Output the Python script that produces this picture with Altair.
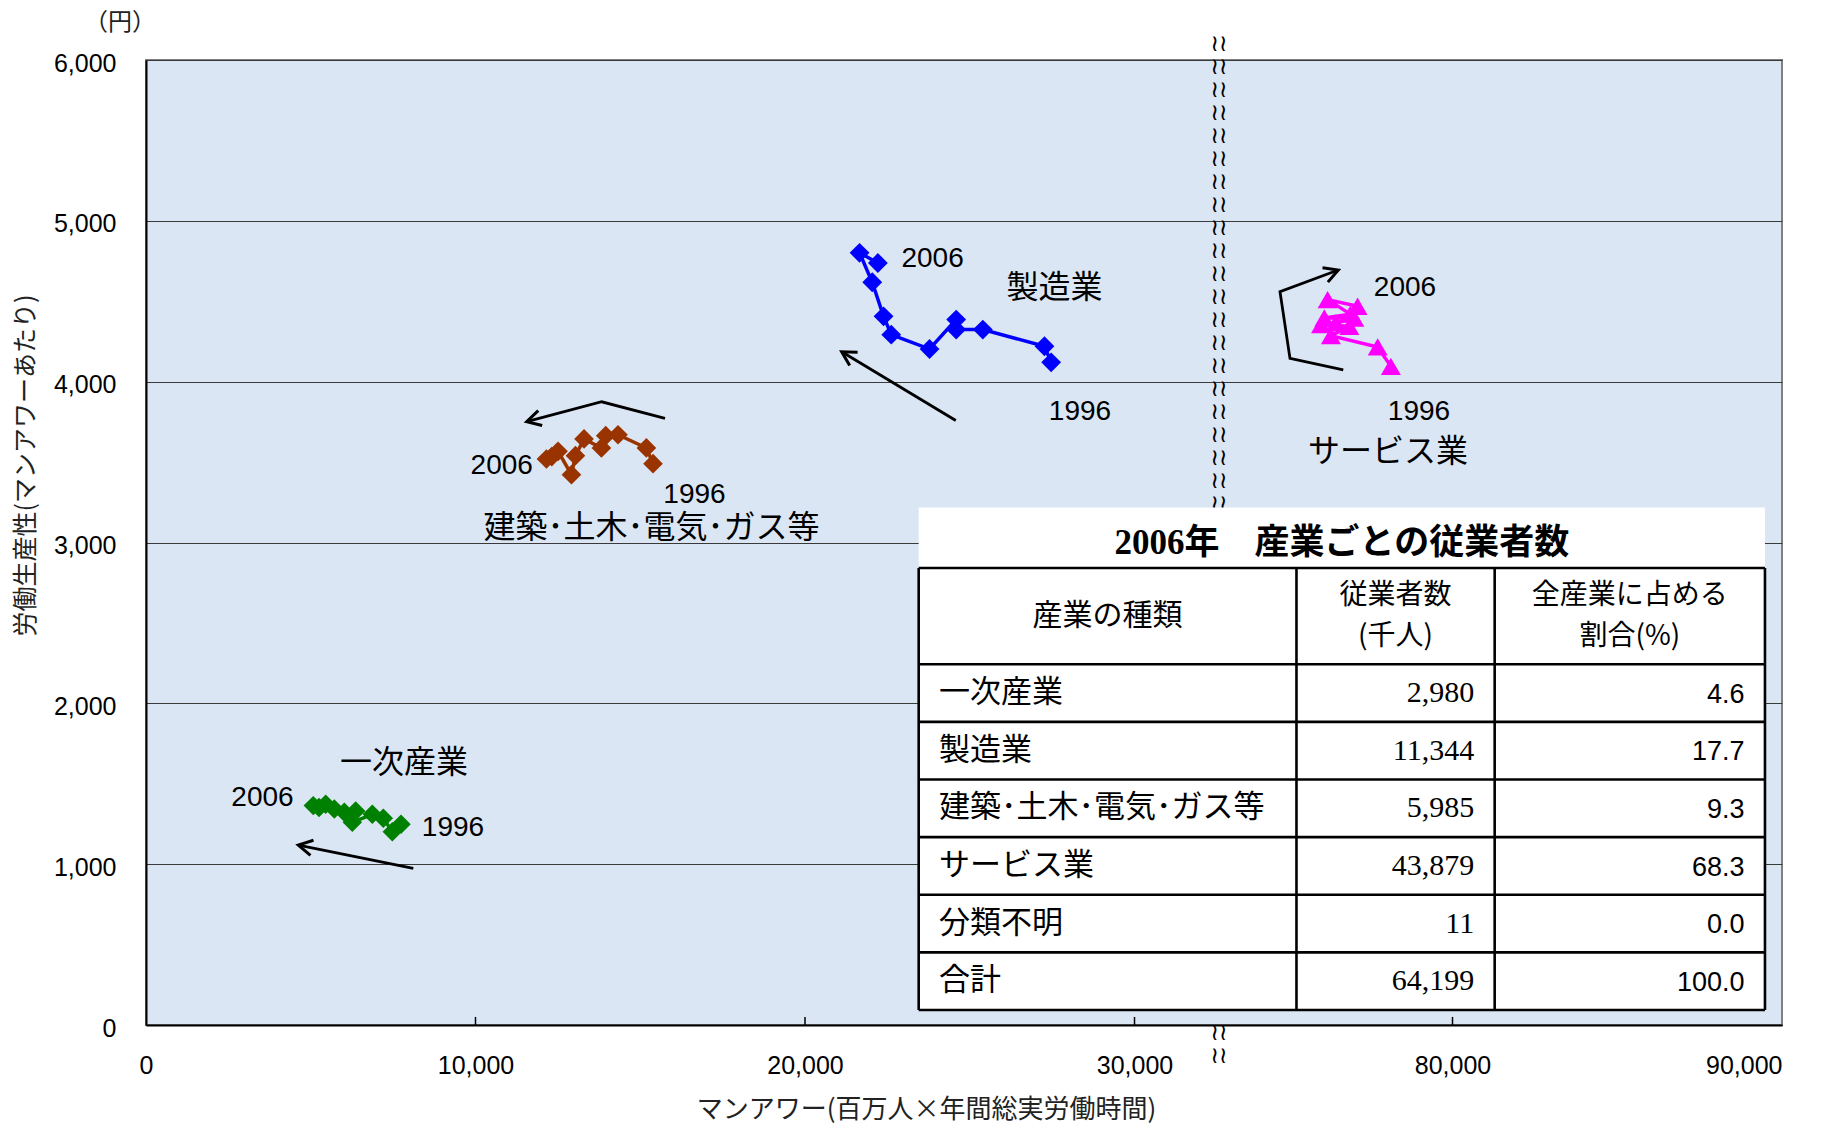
import math
import altair as alt
import pandas as pd

# ---- layout of the plotting area -------------------------------------------
WIDTH, HEIGHT = 1636, 965
X_MAX, Y_MAX = 49650, 6000
BREAK_AT = 32560          # where the x axis is cut
BREAK_SHIFT = 40350       # values right of the cut are drawn this much further left
XPX = WIDTH / X_MAX
YPX = HEIGHT / Y_MAX

JP = "Noto Sans CJK JP"
MIX = "Liberation Sans, Noto Sans CJK JP"

# ---- series: labour productivity vs. man-hours, 1996-2006 --------------------
years = list(range(1996, 2007))

primary_x = [7739, 7475, 7202, 6868, 6261, 6364, 6018, 5715, 5454, 5250, 5077]
primary_y = [1248, 1202, 1285, 1310, 1260, 1331, 1323, 1343, 1372, 1353, 1364]

construction_x = [15387, 15186, 14325, 13952, 13821, 13294, 13033, 12912, 12505, 12314, 12153]
construction_y = [3490, 3588, 3670, 3664, 3588, 3644, 3540, 3422, 3567, 3534, 3519]

manufacturing_x = [27470, 27267, 25396, 24588, 24588, 23779, 22617, 22384, 22041, 21656, 22211]
manufacturing_y = [4120, 4220, 4324, 4324, 4386, 4203, 4292, 4406, 4618, 4801, 4738]

services_x = [78130, 77730, 76310, 76870, 76010, 76460, 77020, 76110, 76900, 76210, 77120]
services_y = [4095, 4216, 4286, 4344, 4355, 4365, 4396, 4396, 4420, 4510, 4469]

series_names = ["一次産業", "建築･土木･電気･ガス等", "製造業", "サービス業"]
series_colors = ["#008000", "#993300", "#0000ff", "#ff00ff"]
series_shapes = ["diamond", "diamond", "diamond", "triangle-up"]
series_sizes = [380, 400, 360, 420]

# ---- table: employees by industry, 2006 --------------------------------------
table_title = "2006年　産業ごとの従業者数"
table_header = ["産業の種類", "従業者数\n(千人)", "全産業に占める\n割合(%)"]
industries = ["一次産業", "製造業", "建築･土木･電気･ガス等", "サービス業", "分類不明", "合計"]
employees = ["2,980", "11,344", "5,985", "43,879", "11", "64,199"]
shares = ["4.6", "17.7", "9.3", "68.3", "0.0", "100.0"]

# ---- trend arrows (in data units) -------------------------------------------
arrows = {
    "primary": ([8112, 4622], [974, 1119]),
    "construction": ([15751, 13830, 11554], [3772, 3875, 3751]),
    "manufacturing": ([24576, 21113], [3759, 4186]),
    "services": ([76685, 75068, 74765, 76534], [4073, 4145, 4559, 4694]),
}

# ---- annotations --------------------------------------------------------------
label_text = ["2006", "1996", "一次産業",
              "2006", "1996", "建築･土木･電気･ガス等",
              "2006", "1996", "製造業",
              "2006", "1996", "サービス業"]
label_x = [3536, 9317, 7830, 10795, 16646, 15341, 23872, 28345, 27572, 78558, 78983, 78042]
label_y = [1411, 1225, 1629, 3478, 3297, 3088, 4763, 3810, 4582, 4582, 3810, 3564]
label_size = [28, 28, 32, 28, 28, 32, 28, 28, 32, 28, 28, 32]


def plot_x(v):
    return v - BREAK_SHIFT if v > BREAK_AT + 20000 else v


PX_EXPR = f"datum.x > {BREAK_AT + 20000} ? datum.x - {BREAK_SHIFT} : datum.x"

xscale = alt.Scale(domain=[0, X_MAX], nice=False, zero=False)
yscale = alt.Scale(domain=[0, Y_MAX], nice=False, zero=False)

x_axis = alt.Axis(
    values=[0, 10000, 20000, 30000, 80000 - BREAK_SHIFT, 90000 - BREAK_SHIFT],
    labelExpr=f"format(datum.value > {BREAK_AT} ? datum.value + {BREAK_SHIFT} : datum.value, ',')",
    labelFont="Liberation Sans", labelFontSize=25, labelColor="black",
    labelPadding=28, labelFlush=False,
    labelAlign={"condition": {"test": f"datum.value >= {X_MAX}", "value": "right"}, "value": "center"},
    ticks=False, grid=False, domainColor="black", domainWidth=2,
    title="マンアワー(百万人×年間総実労働時間)", titleFont=JP, titleFontSize=26,
    titleFontWeight="normal", titleColor="#222222",
    titleX=780, titleY=84, titleBaseline="middle", titleAlign="center",
)
y_axis = alt.Axis(
    values=[0, 1000, 2000, 3000, 4000, 5000, 6000],
    labelExpr="format(datum.value, ',')",
    labelFont="Liberation Sans", labelFontSize=25, labelColor="black", labelPadding=30,
    labelOffset=3,
    ticks=False, grid=True, gridColor="#3a3a3a", gridWidth=1,
    domainColor="black", domainWidth=2,
    title="労働生産性(マンアワーあたり)", titleFont=JP, titleFontSize=25,
    titleFontWeight="normal", titleColor="#222222",
    titleX=-121, titleY=405, titleBaseline="middle", titleAlign="center",
)


def ex(field="px"):
    return alt.X(f"{field}:Q", scale=xscale, axis=x_axis)


def ey(field="y"):
    return alt.Y(f"{field}:Q", scale=yscale, axis=y_axis)


# series table
rows = []
for name, xs, ys in zip(series_names,
                        [primary_x, construction_x, manufacturing_x, services_x],
                        [primary_y, construction_y, manufacturing_y, services_y]):
    for yr, xv, yv in zip(years, xs, ys):
        rows.append({"series": name, "year": yr, "x": xv, "y": yv})
series_df = pd.DataFrame(rows)

color = alt.Color("series:N", scale=alt.Scale(domain=series_names, range=series_colors), legend=None)
shape = alt.Shape("series:N", scale=alt.Scale(domain=series_names, range=series_shapes), legend=None)
msize = alt.Size("series:N", scale=alt.Scale(domain=series_names, range=series_sizes), legend=None)

base = alt.Chart(series_df).transform_calculate(px=PX_EXPR)
lines = base.mark_line(strokeWidth=3.5).encode(
    x=ex(), y=ey(), color=color, detail="series:N", order="year:O",
)
points = base.mark_point(filled=True, opacity=1).encode(
    x=ex(), y=ey(), color=color, shape=shape, size=msize,
)

# arrows
arrow_rows, head_rows = [], []
for key, (xs, ys) in arrows.items():
    for i, (xv, yv) in enumerate(zip(xs, ys)):
        arrow_rows.append({"arrow": key, "i": i, "x": xv, "y": yv})
    x1, x2 = plot_x(xs[-2]), plot_x(xs[-1])
    dxp = (x2 - x1) * XPX
    dyp = -(ys[-1] - ys[-2]) * YPX
    ang = math.degrees(math.atan2(dyp, dxp)) % 360
    head_rows.append({"x": xs[-1], "y": ys[-1], "angle": ang})
arrow_df = pd.DataFrame(arrow_rows)
head_df = pd.DataFrame(head_rows)

arrow_lines = alt.Chart(arrow_df).transform_calculate(px=PX_EXPR).mark_line(
    color="black", strokeWidth=2.8
).encode(x=ex(), y=ey(), detail="arrow:N", order="i:Q")
arrow_heads = alt.Chart(head_df).transform_calculate(px=PX_EXPR).mark_point(
    shape="M -1 -0.55 L 0 0 L -1 0.55", filled=False, color="black",
    strokeWidth=3, size=780, opacity=1, strokeJoin="miter",
).encode(x=ex(), y=ey(), angle=alt.Angle("angle:Q", scale=None))

# text annotations
label_df = pd.DataFrame({"text": label_text, "x": label_x, "y": label_y, "size": label_size})
labels = alt.Chart(label_df).transform_calculate(px=PX_EXPR).mark_text(
    font=MIX, color="black", align="center", baseline="middle"
).encode(x=ex(), y=ey(), text="text:N", size=alt.Size("size:Q", scale=None))

# ---- table geometry (plot units) -------------------------------------------
COLS = [23450, 34915, 40930, 49133]
T_TOP, T_TITLE_BOTTOM, T_HEAD_BOTTOM = 3218, 2841, 2243
ROW_H = (T_HEAD_BOTTOM - 93) / len(industries)
T_BOTTOM = T_HEAD_BOTTOM - ROW_H * len(industries)
PAD = 620

# axis-break marks (the ones fully behind the table are left out)
break_y = [6100 - 143 * k for k in range(45)]
break_y = [v for v in break_y if v > T_TOP - 20 or v < T_BOTTOM - 60]
break_df = pd.DataFrame({"px": [BREAK_AT] * len(break_y), "y": break_y})
break_marks = alt.Chart(break_df).mark_text(
    text="≀≀", font="DejaVu Sans", fontSize=23, color="black", baseline="middle"
).encode(x=ex(), y=ey())

# inward tick marks on the x axis
tick_df = pd.DataFrame({"px": [10000, 20000, 30000, 80000 - BREAK_SHIFT], "y": [0] * 4, "y2": [50] * 4})
ticks = alt.Chart(tick_df).mark_rule(color="black", strokeWidth=1.5).encode(
    x=ex(), y=ey(), y2="y2:Q"
)

table_bg = alt.Chart(pd.DataFrame({"px": [COLS[0]], "px2": [COLS[-1]], "y": [T_TOP], "y2": [T_BOTTOM]})).mark_rect(
    fill="white"
).encode(x=ex(), x2="px2:Q", y=ey(), y2="y2:Q")

h_lines = [T_TITLE_BOTTOM, T_HEAD_BOTTOM] + [T_HEAD_BOTTOM - ROW_H * (k + 1) for k in range(len(industries))]
grid_rows = [{"px": COLS[0], "px2": COLS[-1], "y": yv, "y2": yv} for yv in h_lines]
grid_rows += [{"px": cx, "px2": cx, "y": T_TITLE_BOTTOM, "y2": T_BOTTOM} for cx in COLS]
table_grid = alt.Chart(pd.DataFrame(grid_rows)).mark_rule(color="black", strokeWidth=2.6).encode(
    x=ex(), x2="px2:Q", y=ey(), y2="y2:Q"
)

title_txt = alt.Chart(pd.DataFrame({"px": [(COLS[0] + COLS[-1]) / 2], "y": [(T_TOP + T_TITLE_BOTTOM) / 2 - 30], "t": [table_title]})).mark_text(
    font="Liberation Serif, Noto Sans CJK JP", fontSize=35, fontWeight="bold", color="black", baseline="middle"
).encode(x=ex(), y=ey(), text="t:N")

head_mid = (T_TITLE_BOTTOM + T_HEAD_BOTTOM) / 2
head_rows_df = []
for c, txt in enumerate(table_header):
    parts = txt.split("\n")
    cx = (COLS[c] + COLS[c + 1]) / 2
    if len(parts) == 1:
        head_rows_df.append({"px": cx, "y": head_mid, "t": parts[0], "s": 30})
    else:
        head_rows_df.append({"px": cx, "y": head_mid + 128, "t": parts[0], "s": 28})
        head_rows_df.append({"px": cx, "y": head_mid - 128, "t": parts[1], "s": 28})
header_txt = alt.Chart(pd.DataFrame(head_rows_df)).mark_text(
    font=JP, color="black", baseline="middle"
).encode(x=ex(), y=ey(), text="t:N", size=alt.Size("s:Q", scale=None))

row_centers = [T_HEAD_BOTTOM - ROW_H * (k + 0.5) for k in range(len(industries))]
col1 = alt.Chart(pd.DataFrame({"px": [COLS[0] + PAD] * 6, "y": row_centers, "t": industries})).mark_text(
    font=JP, fontSize=31, color="black", align="left", baseline="middle"
).encode(x=ex(), y=ey(), text="t:N")
col2 = alt.Chart(pd.DataFrame({"px": [COLS[2] - PAD] * 6, "y": row_centers, "t": employees})).mark_text(
    font="Liberation Serif", fontSize=30, color="black", align="right", baseline="middle"
).encode(x=ex(), y=ey(), text="t:N")
col3 = alt.Chart(pd.DataFrame({"px": [COLS[3] - PAD] * 6, "y": [r - 10 for r in row_centers], "t": shares})).mark_text(
    font="Liberation Sans", fontSize=27, color="black", align="right", baseline="middle"
).encode(x=ex(), y=ey(), text="t:N")

unit_txt = alt.Chart(pd.DataFrame({"px": [-789], "y": [6230], "t": ["（円）"]})).mark_text(
    font=JP, fontSize=24, color="#222222", baseline="middle"
).encode(x=ex(), y=ey(), text="t:N")

chart = alt.layer(
    lines, points, arrow_lines, arrow_heads, labels, break_marks,
    table_bg, table_grid, title_txt, header_txt, col1, col2, col3, ticks, unit_txt,
).properties(
    width=WIDTH, height=HEIGHT,
    padding={"left": 146, "top": 60, "right": 39, "bottom": 99},
    autosize=alt.AutoSizeParams(type="none"),
    background="white",
).configure_view(fill="#dbe6f4", stroke="#808080", strokeWidth=2)

chart.save("out.html", embed_options={"renderer": "svg", "actions": False})
